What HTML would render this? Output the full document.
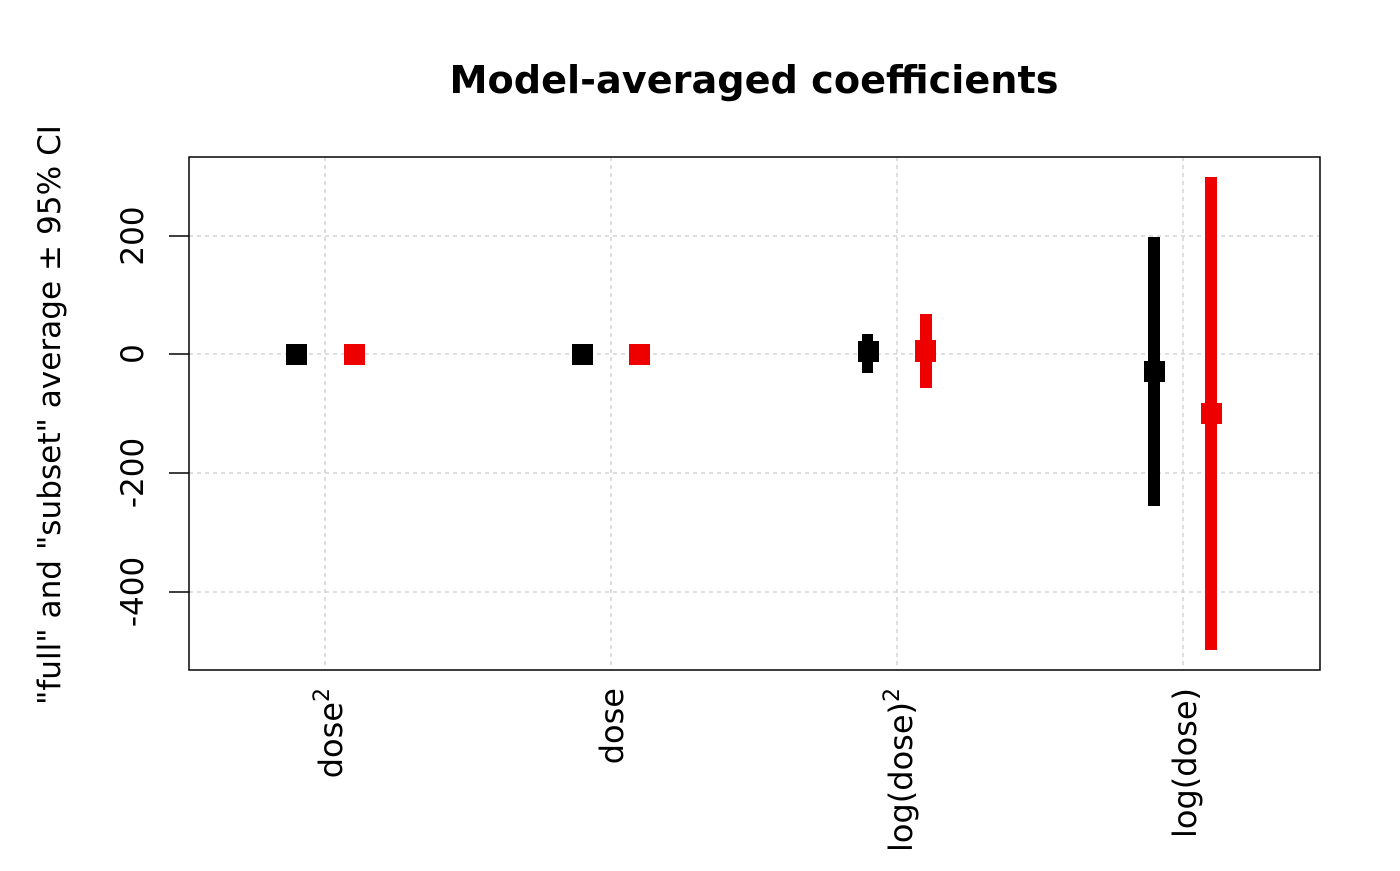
<!DOCTYPE html>
<html><head><meta charset="utf-8"><style>body{margin:0;background:#fff}</style></head><body>
<svg width="1400" height="866" xmlns="http://www.w3.org/2000/svg" font-family="DejaVu Sans, Liberation Sans, sans-serif">
<rect width="1400" height="866" fill="#fff"/>
<g stroke="#d3d3d3" stroke-width="1.5" stroke-dasharray="4,4">
<line x1="325" y1="157" x2="325" y2="670"/><line x1="611" y1="157" x2="611" y2="670"/>
<line x1="897" y1="157" x2="897" y2="670"/><line x1="1183" y1="157" x2="1183" y2="670"/>
<line x1="189" y1="236" x2="1320" y2="236"/><line x1="189" y1="354" x2="1320" y2="354"/>
<line x1="189" y1="473" x2="1320" y2="473"/><line x1="189" y1="592" x2="1320" y2="592"/>
</g>
<g stroke="#000" stroke-width="1.5">
<line x1="169" y1="236" x2="189" y2="236"/><line x1="169" y1="354" x2="189" y2="354"/>
<line x1="169" y1="473" x2="189" y2="473"/><line x1="169" y1="592" x2="189" y2="592"/>
</g>
<rect x="189" y="157" width="1131" height="513" fill="none" stroke="#000" stroke-width="1.5"/>
<rect x="286" y="344" width="21" height="21" fill="#000"/>
<rect x="344" y="344" width="21" height="21" fill="#e00"/>
<rect x="572" y="344" width="21" height="21" fill="#000"/>
<rect x="629" y="344" width="21" height="21" fill="#e00"/>
<rect x="862" y="334" width="11" height="39" fill="#000"/>
<rect x="858" y="341" width="21" height="21" fill="#000"/>
<rect x="920" y="314" width="12" height="74" fill="#e00"/>
<rect x="915" y="340" width="21" height="22" fill="#e00"/>
<rect x="1148" y="237" width="12" height="269" fill="#000"/>
<rect x="1144" y="361" width="21" height="21" fill="#000"/>
<rect x="1205" y="177" width="12" height="473" fill="#e00"/>
<rect x="1201" y="403" width="21" height="21" fill="#e00"/>
<text x="754" y="93" font-size="38" font-weight="bold" text-anchor="middle" textLength="609" lengthAdjust="spacingAndGlyphs">Model-averaged coefficients</text>
<g font-size="31" text-anchor="middle">
<text transform="translate(143,236) rotate(-90)">200</text>
<text transform="translate(143,354) rotate(-90)">0</text>
<text transform="translate(143,473) rotate(-90)">-200</text>
<text transform="translate(143,592) rotate(-90)">-400</text>
<text transform="translate(60,415) rotate(-90)" textLength="580" lengthAdjust="spacingAndGlyphs">"full" and "subset" average ± 95% CI</text>
</g>
<g font-size="32" text-anchor="end">
<text transform="translate(342,688) rotate(-90)">dose<tspan font-size="22" dy="-13">2</tspan></text>
<text transform="translate(623,688) rotate(-90)">dose</text>
<text transform="translate(912,688) rotate(-90)">log(dose)<tspan font-size="22" dy="-13">2</tspan></text>
<text transform="translate(1196,688) rotate(-90)">log(dose)</text>
</g>
</svg>
</body></html>
